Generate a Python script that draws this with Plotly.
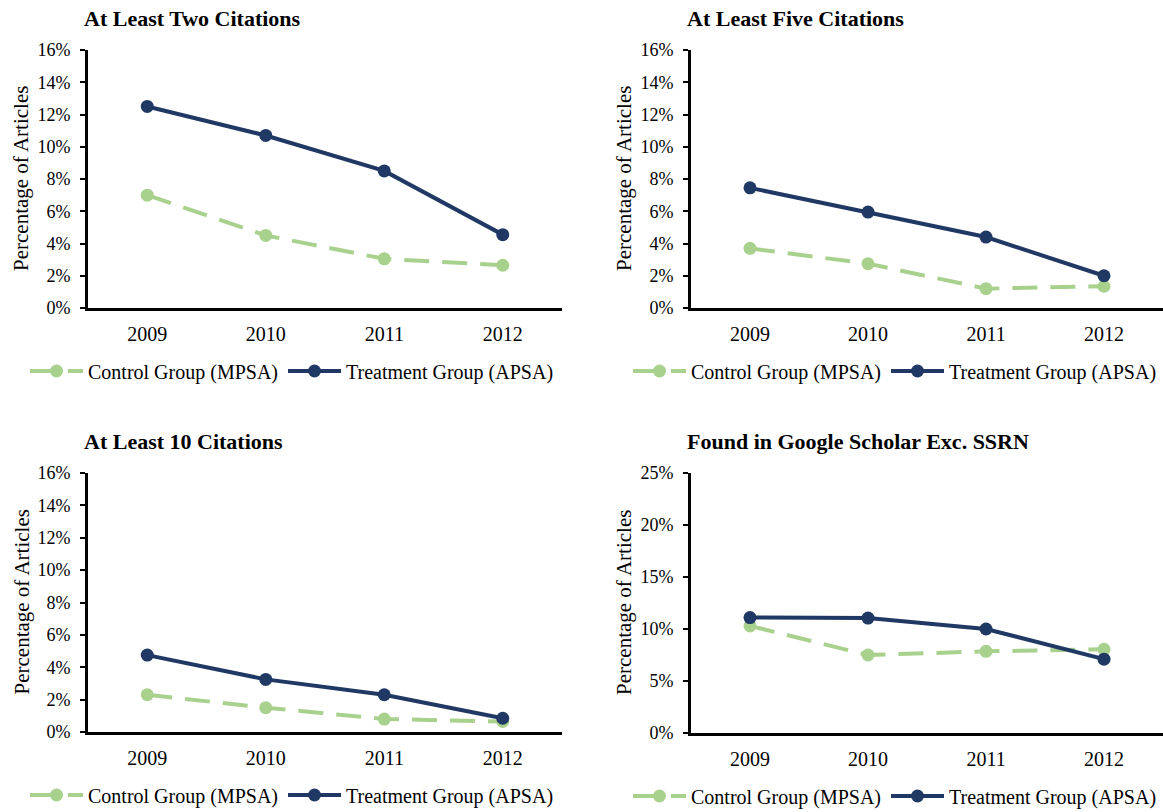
import plotly.graph_objects as go

years = ["2009", "2010", "2011", "2012"]

# Share of articles (%) per cohort year
two_control = [7.0, 4.5, 3.05, 2.65]
two_treatment = [12.5, 10.7, 8.5, 4.55]
five_control = [3.7, 2.75, 1.2, 1.35]
five_treatment = [7.45, 5.95, 4.4, 2.0]
ten_control = [2.3, 1.5, 0.8, 0.65]
ten_treatment = [4.75, 3.25, 2.3, 0.85]
gs_control = [10.3, 7.5, 7.85, 8.05]
gs_treatment = [11.1, 11.05, 10.0, 7.1]

panel_titles = [
    "At Least Two Citations",
    "At Least Five Citations",
    "At Least 10 Citations",
    "Found in Google Scholar Exc. SSRN",
]
series_names = ["Control Group (MPSA)", "Treatment Group (APSA)"]
y_max = [16, 16, 16, 25]
y_step = [2, 2, 2, 5]

panels = [
    (two_control, two_treatment),
    (five_control, five_treatment),
    (ten_control, ten_treatment),
    (gs_control, gs_treatment),
]

W, H = 1163, 812
FONT = "Liberation Serif, Times New Roman, serif"
NAVY = "#203864"
GREEN = "#A9D18E"

# pixel geometry of each panel: (x_left, x_right, y_top, y_bottom)
boxes = [
    (88, 562, 50, 308),
    (691, 1163, 50, 308),
    (88, 562, 473, 732),
    (691, 1163, 473, 733),
]

fig = go.Figure()
layout = dict(
    width=W, height=H, autosize=False,
    margin=dict(l=0, r=0, t=0, b=0, autoexpand=False),
    paper_bgcolor="white", plot_bgcolor="white",
    font=dict(family=FONT, color="black", size=20),
    showlegend=True,
    annotations=[],
)

for i, ((ctrl, treat), (xl, xr, yt, yb)) in enumerate(zip(panels, boxes)):
    n = i + 1
    xa = "x" if n == 1 else f"x{n}"
    ya = "y" if n == 1 else f"y{n}"
    leg = "legend" if n == 1 else f"legend{n}"

    fig.add_trace(go.Scatter(
        x=years, y=ctrl, name=series_names[0], mode="lines+markers",
        line=dict(color=GREEN, width=4, dash="25px,13px"),
        marker=dict(color=GREEN, size=13, symbol="circle"),
        xaxis=xa, yaxis=ya, legend=leg, cliponaxis=False,
    ))
    fig.add_trace(go.Scatter(
        x=years, y=treat, name=series_names[1], mode="lines+markers",
        line=dict(color=NAVY, width=4),
        marker=dict(color=NAVY, size=13, symbol="circle"),
        xaxis=xa, yaxis=ya, legend=leg, cliponaxis=False,
    ))

    xdom = [xl / W, min(xr / W, 1.0)]
    ydom = [1 - yb / H, 1 - yt / H]

    layout[f"xaxis{'' if n == 1 else n}"] = dict(
        domain=xdom, anchor=ya, type="category", range=[-0.5, 3.5],
        showline=True, linecolor="black", linewidth=3, ticks="",
        showgrid=False, zeroline=False, fixedrange=True,
        tickfont=dict(family=FONT, size=20, color="black"),
        ticklabelstandoff=6,
    )
    layout[f"yaxis{'' if n == 1 else n}"] = dict(
        domain=ydom, anchor=xa, range=[0, y_max[i]], dtick=y_step[i],
        tick0=0, ticksuffix="%",
        showline=True, linecolor="black", linewidth=3,
        ticks="outside", ticklen=5, tickwidth=2, tickcolor="black",
        showgrid=False, zeroline=False, fixedrange=True,
        tickfont=dict(family=FONT, size=18, color="black"),
        ticklabelstandoff=6,
    )

    # panel title
    layout["annotations"].append(dict(
        text=f"<b>{panel_titles[i]}</b>", xref="paper", yref="paper",
        x=(xl - 6) / W, y=1 - (yt - 32) / H, xanchor="left", yanchor="middle",
        showarrow=False, font=dict(family=FONT, size=22, color="black"),
    ))
    # y-axis title
    layout["annotations"].append(dict(
        text="Percentage of Articles", xref="paper", yref="paper",
        x=(xl - 67) / W, y=1 - ((yt + yb) / 2) / H, xanchor="center",
        yanchor="middle", textangle=-90, showarrow=False,
        font=dict(family=FONT, size=21, color="black"),
    ))
    # legend under each panel
    layout[leg] = dict(
        orientation="h", x=(xl - 63) / W, y=1 - (yb + 63) / H,
        xanchor="left", yanchor="middle", bgcolor="rgba(0,0,0,0)",
        font=dict(family=FONT, size=20, color="black"),
        itemwidth=53,
        itemclick=False, itemdoubleclick=False,
    )

fig.update_layout(**layout)
fig.write_html(
    "out.html",
    post_script="document.body.style.margin='0px';",
)
